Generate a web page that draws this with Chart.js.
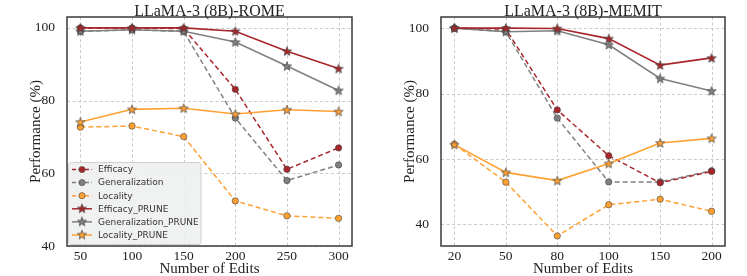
<!DOCTYPE html>
<html>
<head>
<meta charset="utf-8">
<script src="https://cdn.jsdelivr.net/npm/chart.js@4.4.0/dist/chart.umd.min.js"></script>
<style>
  body { margin: 0; background: #fff; }
  #wrap { position: relative; width: 747px; height: 276px; }
  canvas { position: absolute; top: 0; }
  #romeChart { left: 0; }
  #memitChart { left: 373px; }
</style>
</head>
<body>
<div id="wrap">
  <canvas id="romeChart" width="373" height="276"></canvas>
  <canvas id="memitChart" width="374" height="276"></canvas>
</div>
<script>
// ROME
const editsRome = ['50', '100', '150', '200', '250', '300'];
const romeEfficacy = [100, 100, 99.8, 83.1, 61.1, 67.0];
const romeGeneralization = [99.0, 99.5, 99.0, 75.2, 58.0, 62.3];
const romeLocality = [72.7, 73.0, 70.1, 52.4, 48.3, 47.6];
const romeEfficacyPrune = [100, 100, 100, 99.1, 93.6, 88.8];
const romeGeneralizationPrune = [99.1, 99.5, 99.1, 96.1, 89.5, 82.8];
const romeLocalityPrune = [74.1, 77.6, 77.9, 76.3, 77.5, 77.0];

// MEMIT
const editsMemit = ['20', '50', '80', '100', '150', '200'];
const memitEfficacy = [100, 99.7, 75.0, 61.0, 52.7, 56.2];
const memitGeneralization = [100, 98.9, 72.5, 53.0, 53.0, 56.4];
const memitLocality = [64.5, 52.9, 36.5, 46.0, 47.7, 44.0];
const memitEfficacyPrune = [100, 100, 99.9, 96.8, 88.7, 90.9];
const memitGeneralizationPrune = [100, 98.9, 99.2, 94.9, 84.6, 80.8];
const memitLocalityPrune = [64.4, 55.9, 53.4, 58.6, 64.9, 66.3];

const yTicks = [40, 60, 80, 100];

const RED = '#a8262a';
const GRAY = '#808080';
const ORANGE = '#ffa032';
const EDGE = '#444';

function starImage(color) {
    const c = document.createElement('canvas');
    c.width = 12; c.height = 12;
    const g = c.getContext('2d');
    g.beginPath();
    for (let i = 0; i < 10; i++) {
        const r = i % 2 === 0 ? 4.8 : 2.0;
        const a = -Math.PI / 2 + i * Math.PI / 5;
        const px = 6 + r * Math.cos(a), py = 6.4 + r * Math.sin(a);
        if (i === 0) g.moveTo(px, py); else g.lineTo(px, py);
    }
    g.closePath();
    g.fillStyle = color;
    g.fill();
    g.lineWidth = 0.7;
    g.strokeStyle = EDGE;
    g.stroke();
    return c;
}

const stars = { red: starImage(RED), gray: starImage(GRAY), orange: starImage(ORANGE) };

function pts(values) {
    return values.map((v, i) => ({ x: i, y: v }));
}

function dashedSet(label, values, color) {
    return {
        label: label, data: pts(values),
        borderColor: color, borderWidth: 1.5, borderDash: [5, 3],
        pointStyle: 'circle', pointRadius: 3.2,
        pointBackgroundColor: color, pointBorderColor: EDGE, pointBorderWidth: 0.6,
        order: 1
    };
}

function pruneSet(label, values, color, img) {
    return {
        label: label, data: pts(values),
        borderColor: color, borderWidth: 1.6,
        pointStyle: img, pointRadius: 5,
        order: 0
    };
}

const legendItems = [
    { text: 'Efficacy', color: RED, dash: true },
    { text: 'Generalization', color: GRAY, dash: true },
    { text: 'Locality', color: ORANGE, dash: true },
    { text: 'Efficacy_PRUNE', color: RED, img: stars.red },
    { text: 'Generalization_PRUNE', color: GRAY, img: stars.gray },
    { text: 'Locality_PRUNE', color: ORANGE, img: stars.orange }
];

// dashed grid under the lines
const gridPlugin = {
    id: 'dashGrid',
    beforeDatasetsDraw(chart) {
        const a = chart.chartArea, g = chart.ctx;
        const xs = chart.scales.x, ys = chart.scales.y;
        g.save();
        g.strokeStyle = '#c4c4c4';
        g.lineWidth = 0.9;
        g.setLineDash([3, 2.5]);
        xs.ticks.forEach(t => {
            const px = Math.round(xs.getPixelForValue(t.value)) + 0.5;
            g.beginPath(); g.moveTo(px, a.top); g.lineTo(px, a.bottom); g.stroke();
        });
        ys.ticks.forEach(t => {
            const py = Math.round(ys.getPixelForValue(t.value)) + 0.5;
            g.beginPath(); g.moveTo(a.left, py); g.lineTo(a.right, py); g.stroke();
        });
        g.restore();
    }
};

// frame around the plot
const framePlugin = {
    id: 'frame',
    afterDraw(chart) {
        const a = chart.chartArea, g = chart.ctx;
        g.save();
        g.strokeStyle = '#3a3a3a';
        g.lineWidth = 1.5;
        g.strokeRect(a.left, a.top, a.right - a.left, a.bottom - a.top);
        g.restore();
    }
};

// legend drawn inside the plot, bottom left
const legendPlugin = {
    id: 'insideLegend',
    afterDraw(chart, args, opts) {
        if (!opts.show) return;
        const g = chart.ctx;
        const x0 = 68.5, y0 = 162.5, w = 132.5, h = 82;
        g.save();
        g.beginPath();
        g.roundRect(x0, y0, w, h, 3);
        g.fillStyle = 'rgba(238,239,239,0.88)';
        g.fill();
        g.strokeStyle = '#d0d0d0';
        g.lineWidth = 1;
        g.stroke();
        g.font = '9px "DejaVu Sans"';
        g.textBaseline = 'middle';
        legendItems.forEach((it, i) => {
            const y = 169.5 + i * 13.1;
            g.beginPath();
            g.setLineDash(it.dash ? [4, 2.5] : []);
            g.strokeStyle = it.color;
            g.lineWidth = 1.5;
            g.moveTo(72, y); g.lineTo(92, y);
            g.stroke();
            g.setLineDash([]);
            if (it.img) {
                g.drawImage(it.img, 82 - 6, y - 6.4);
            } else {
                g.beginPath();
                g.arc(82, y, 3.1, 0, Math.PI * 2);
                g.fillStyle = it.color;
                g.fill();
                g.lineWidth = 0.6;
                g.strokeStyle = EDGE;
                g.stroke();
            }
            g.fillStyle = '#333';
            g.fillText(it.text, 98, y + 0.5);
        });
        g.restore();
    }
};

function makeChart(id, title, labels, sets, yMin, yMax, pad, showLegend) {
    const ctx = document.getElementById(id).getContext('2d');
    return new Chart(ctx, {
        type: 'line',
        data: { datasets: sets },
        plugins: [gridPlugin, framePlugin, legendPlugin],
        options: {
            responsive: false,
            animation: false,
            layout: { padding: pad },
            plugins: {
                legend: { display: false },
                tooltip: { enabled: false },
                insideLegend: { show: showLegend },
                title: {
                    display: true,
                    text: title,
                    fullSize: false,
                    color: '#222',
                    font: { family: '"Liberation Serif"', size: 16, weight: 'normal', lineHeight: 0.625 },
                    padding: { top: 7, bottom: 0 }
                }
            },
            scales: {
                x: {
                    type: 'linear',
                    min: -0.26, max: 5.26,
                    afterBuildTicks: (s) => { s.ticks = labels.map((_, i) => ({ value: i })); },
                    afterFit: (s) => { s.height = 31; },
                    ticks: {
                        callback: (v) => labels[v],
                        color: '#222', padding: -4, maxRotation: 0,
                        font: { family: '"Liberation Serif"', size: 13.5, lineHeight: 1 }
                    },
                    grid: { display: false },
                    border: { display: false },
                    title: {
                        display: true, text: 'Number of Edits', color: '#222',
                        font: { family: '"Liberation Serif"', size: 15, lineHeight: 1 },
                        padding: 0
                    }
                },
                y: {
                    min: yMin, max: yMax,
                    afterBuildTicks: (s) => { s.ticks = yTicks.map(v => ({ value: v })); },
                    afterFit: (s) => { s.width = 38; },
                    ticks: {
                        color: '#222', padding: 4,
                        font: { family: '"Liberation Serif"', size: 13.5 }
                    },
                    grid: { display: false },
                    border: { display: false },
                    title: {
                        display: true, text: 'Performance (%)', color: '#222',
                        font: { family: '"Liberation Serif"', size: 15, lineHeight: 1 },
                        padding: 0
                    }
                }
            }
        }
    });
}

makeChart('romeChart', 'LLaMA-3 (8B)-ROME', editsRome, [
    dashedSet('Efficacy', romeEfficacy, RED),
    dashedSet('Generalization', romeGeneralization, GRAY),
    dashedSet('Locality', romeLocality, ORANGE),
    pruneSet('Efficacy_PRUNE', romeEfficacyPrune, RED, stars.red),
    pruneSet('Generalization_PRUNE', romeGeneralizationPrune, GRAY, stars.gray),
    pruneSet('Locality_PRUNE', romeLocalityPrune, ORANGE, stars.orange)
], 40, 103, { left: 29, right: 21, top: 0, bottom: -1 }, true);

makeChart('memitChart', 'LLaMA-3 (8B)-MEMIT', editsMemit, [
    dashedSet('Efficacy', memitEfficacy, RED),
    dashedSet('Generalization', memitGeneralization, GRAY),
    dashedSet('Locality', memitLocality, ORANGE),
    pruneSet('Efficacy_PRUNE', memitEfficacyPrune, RED, stars.red),
    pruneSet('Generalization_PRUNE', memitGeneralizationPrune, GRAY, stars.gray),
    pruneSet('Locality_PRUNE', memitLocalityPrune, ORANGE, stars.orange)
], 33.4, 103.4, { left: 30, right: 22, top: 0, bottom: -1 }, false);
</script>
</body>
</html>
